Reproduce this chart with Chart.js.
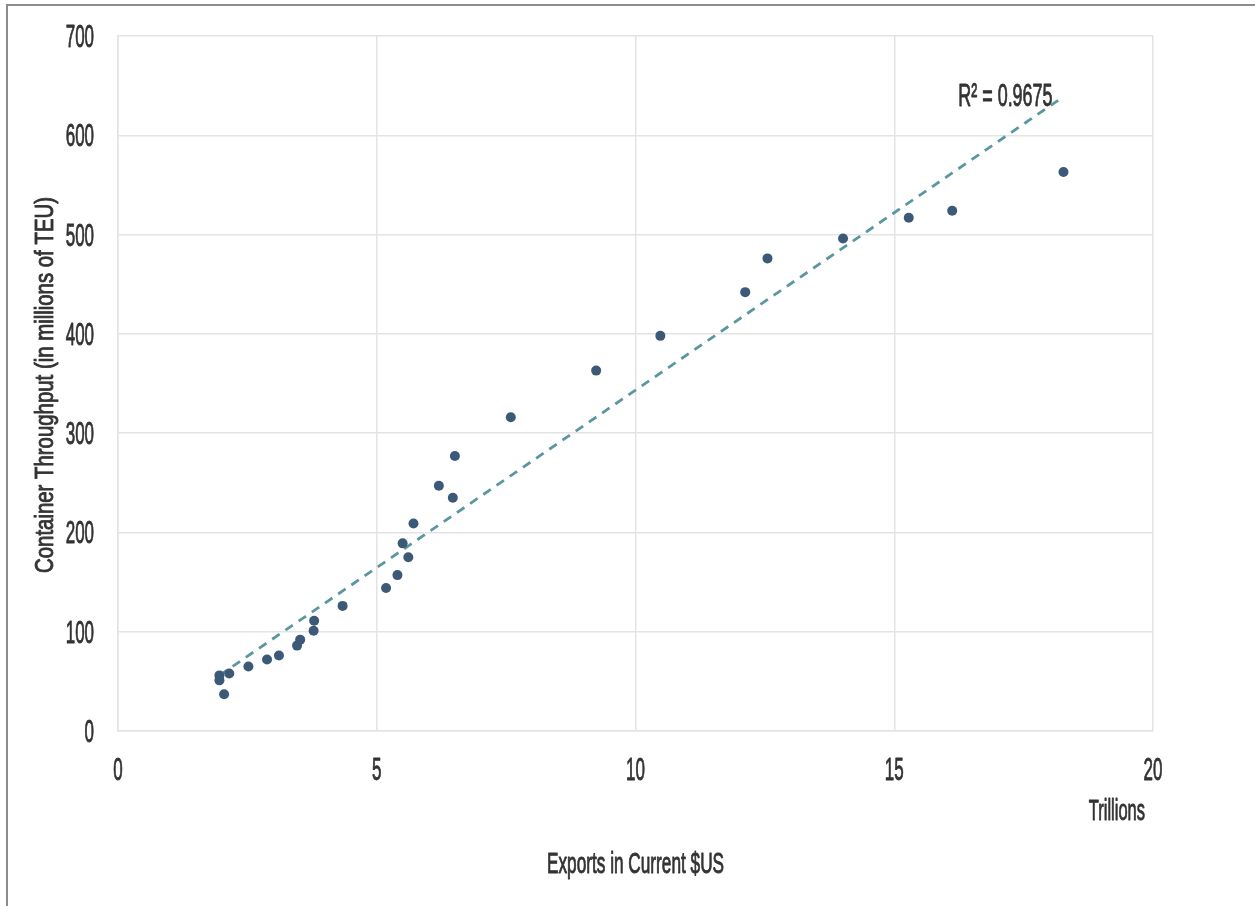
<!DOCTYPE html>
<html>
<head>
<meta charset="utf-8">
<title>Container Throughput vs Exports</title>
<script src="https://cdn.jsdelivr.net/npm/chart.js@4/dist/chart.umd.min.js"></script>
<style>
  html, body { margin: 0; padding: 0; background: #ffffff; }
  #wrap { position: relative; width: 1255px; height: 906px; overflow: hidden; }
  #frame { position: absolute; left: 6px; top: 4px; width: 1300px; height: 960px;
           border-left: 2px solid #8c8c8c; border-top: 2px solid #8c8c8c; box-sizing: border-box; }
  canvas { position: absolute; left: 0; top: 0; }
</style>
</head>
<body>
<div id="wrap">
  <div id="frame"></div>
  <canvas id="chart" width="1255" height="906"></canvas>
</div>
<script>
// Exports (current US$, trillions) and container throughput (millions of TEU), one pair per year
const exportsTrillions = [1.96, 1.96, 2.05, 2.15, 2.52, 2.88, 3.11, 3.46, 3.52, 3.78,
                          3.79, 4.34, 5.18, 5.40, 5.50, 5.61, 5.71, 6.20, 6.47, 6.51,
                          7.59, 9.24, 10.48, 12.12, 12.55, 14.01, 15.28, 16.12, 18.27];
const throughputTEU   = [56, 51, 37, 58, 65, 72, 76, 86, 92, 101,
                          111, 126, 144, 157, 189, 175, 209, 247, 235, 277,
                          316, 363, 398, 442, 476, 496, 517, 524, 563];
const xTickValues = [0, 5, 10, 15, 20];
const yTickValues = [0, 100, 200, 300, 400, 500, 600, 700];
const rSquaredText = 'R² = 0.9675';
const xTitle = 'Exports in Current $US';
const yTitle = 'Container Throughput (in millions of TEU)';
const xUnits = 'Trillions';

const FONT = "'Liberation Sans', Arial, sans-serif";
const TEXT = '#333333';
const GRID = '#e3e3e3';

// Least-squares linear trendline through the points
const n = exportsTrillions.length;
const mx = exportsTrillions.reduce((a, b) => a + b, 0) / n;
const my = throughputTEU.reduce((a, b) => a + b, 0) / n;
let sxy = 0, sxx = 0;
for (let i = 0; i < n; i++) {
  sxy += (exportsTrillions[i] - mx) * (throughputTEU[i] - my);
  sxx += (exportsTrillions[i] - mx) ** 2;
}
const slope = sxy / sxx;
const intercept = my - slope * mx;
const xMin = Math.min(...exportsTrillions);
const xMax = Math.max(...exportsTrillions);
const trend = [
  { x: xMin, y: intercept + slope * xMin },
  { x: xMax, y: intercept + slope * xMax }
];

const points = exportsTrillions.map((x, i) => ({ x, y: throughputTEU[i] }));

// Tall, narrow lettering: draw text with a horizontal squeeze and a light outline for weight
function narrowText(ctx, text, x, y, size, squeeze, align, rotation) {
  ctx.save();
  ctx.translate(x, y);
  if (rotation) ctx.rotate(rotation);
  ctx.scale(squeeze, 1);
  ctx.font = size + 'px ' + FONT;
  ctx.fillStyle = TEXT;
  ctx.strokeStyle = TEXT;
  ctx.lineWidth = 0.9;
  ctx.lineJoin = 'round';
  ctx.textAlign = align;
  ctx.textBaseline = 'alphabetic';
  ctx.fillText(text, 0, 0);
  ctx.strokeText(text, 0, 0);
  ctx.restore();
}

// Axis tick labels, axis titles, units note and R² label
const axisText = {
  id: 'axisText',
  afterDraw(chart) {
    const { ctx, chartArea, scales } = chart;
    const xs = scales.x, ys = scales.y;
    ys.ticks.forEach(t => {
      narrowText(ctx, String(t.value), ys.right - 24, ys.getPixelForValue(t.value) + 11, 32, 0.53, 'right');
    });
    xs.ticks.forEach(t => {
      narrowText(ctx, String(t.value), xs.getPixelForValue(t.value), chartArea.bottom + 49, 32, 0.53, 'center');
    });
    narrowText(ctx, yTitle, ys.left + 53, (chartArea.top + chartArea.bottom) / 2 + 1.5, 25, 0.815, 'center', -Math.PI / 2);
    narrowText(ctx, xTitle, (chartArea.left + chartArea.right) / 2, chartArea.bottom + 142, 29, 0.594, 'center');
    narrowText(ctx, xUnits, chartArea.right - 8, chartArea.bottom + 89, 30, 0.55, 'right');
    const end = trend[1];
    const ex = xs.getPixelForValue(end.x);
    const ey = ys.getPixelForValue(end.y);
    narrowText(ctx, rSquaredText, ex - 11, ey + 9, 32, 0.56, 'right');
  }
};

new Chart(document.getElementById('chart'), {
  type: 'scatter',
  data: {
    datasets: [
      {
        type: 'line',
        label: 'Linear trend',
        data: trend,
        borderColor: '#5b97a0',
        borderWidth: 2.8,
        borderDash: [9, 7],
        pointRadius: 0,
        fill: false,
        order: 2
      },
      {
        label: 'Throughput',
        data: points,
        backgroundColor: '#3c5a78',
        borderColor: '#3c5a78',
        pointRadius: 5,
        pointBorderWidth: 0,
        order: 1
      }
    ]
  },
  options: {
    responsive: false,
    animation: false,
    devicePixelRatio: 1,
    layout: { padding: { left: 0, top: 36, right: 102, bottom: 0 } },
    plugins: { legend: { display: false }, tooltip: { enabled: false } },
    scales: {
      x: {
        type: 'linear',
        min: 0, max: 20,
        afterBuildTicks(scale) { scale.ticks = xTickValues.map(v => ({ value: v })); },
        afterFit(scale) { scale.height = 175; },
        grid: { color: GRID, lineWidth: 1.5, drawTicks: false },
        border: { color: GRID, width: 1.5 },
        ticks: { display: false }
      },
      y: {
        type: 'linear',
        min: 0, max: 700,
        afterBuildTicks(scale) { scale.ticks = yTickValues.map(v => ({ value: v })); },
        afterFit(scale) { scale.width = 118; },
        grid: { color: GRID, lineWidth: 1.5, drawTicks: false },
        border: { color: GRID, width: 1.5 },
        ticks: { display: false }
      }
    }
  },
  plugins: [axisText]
});
</script>
</body>
</html>
